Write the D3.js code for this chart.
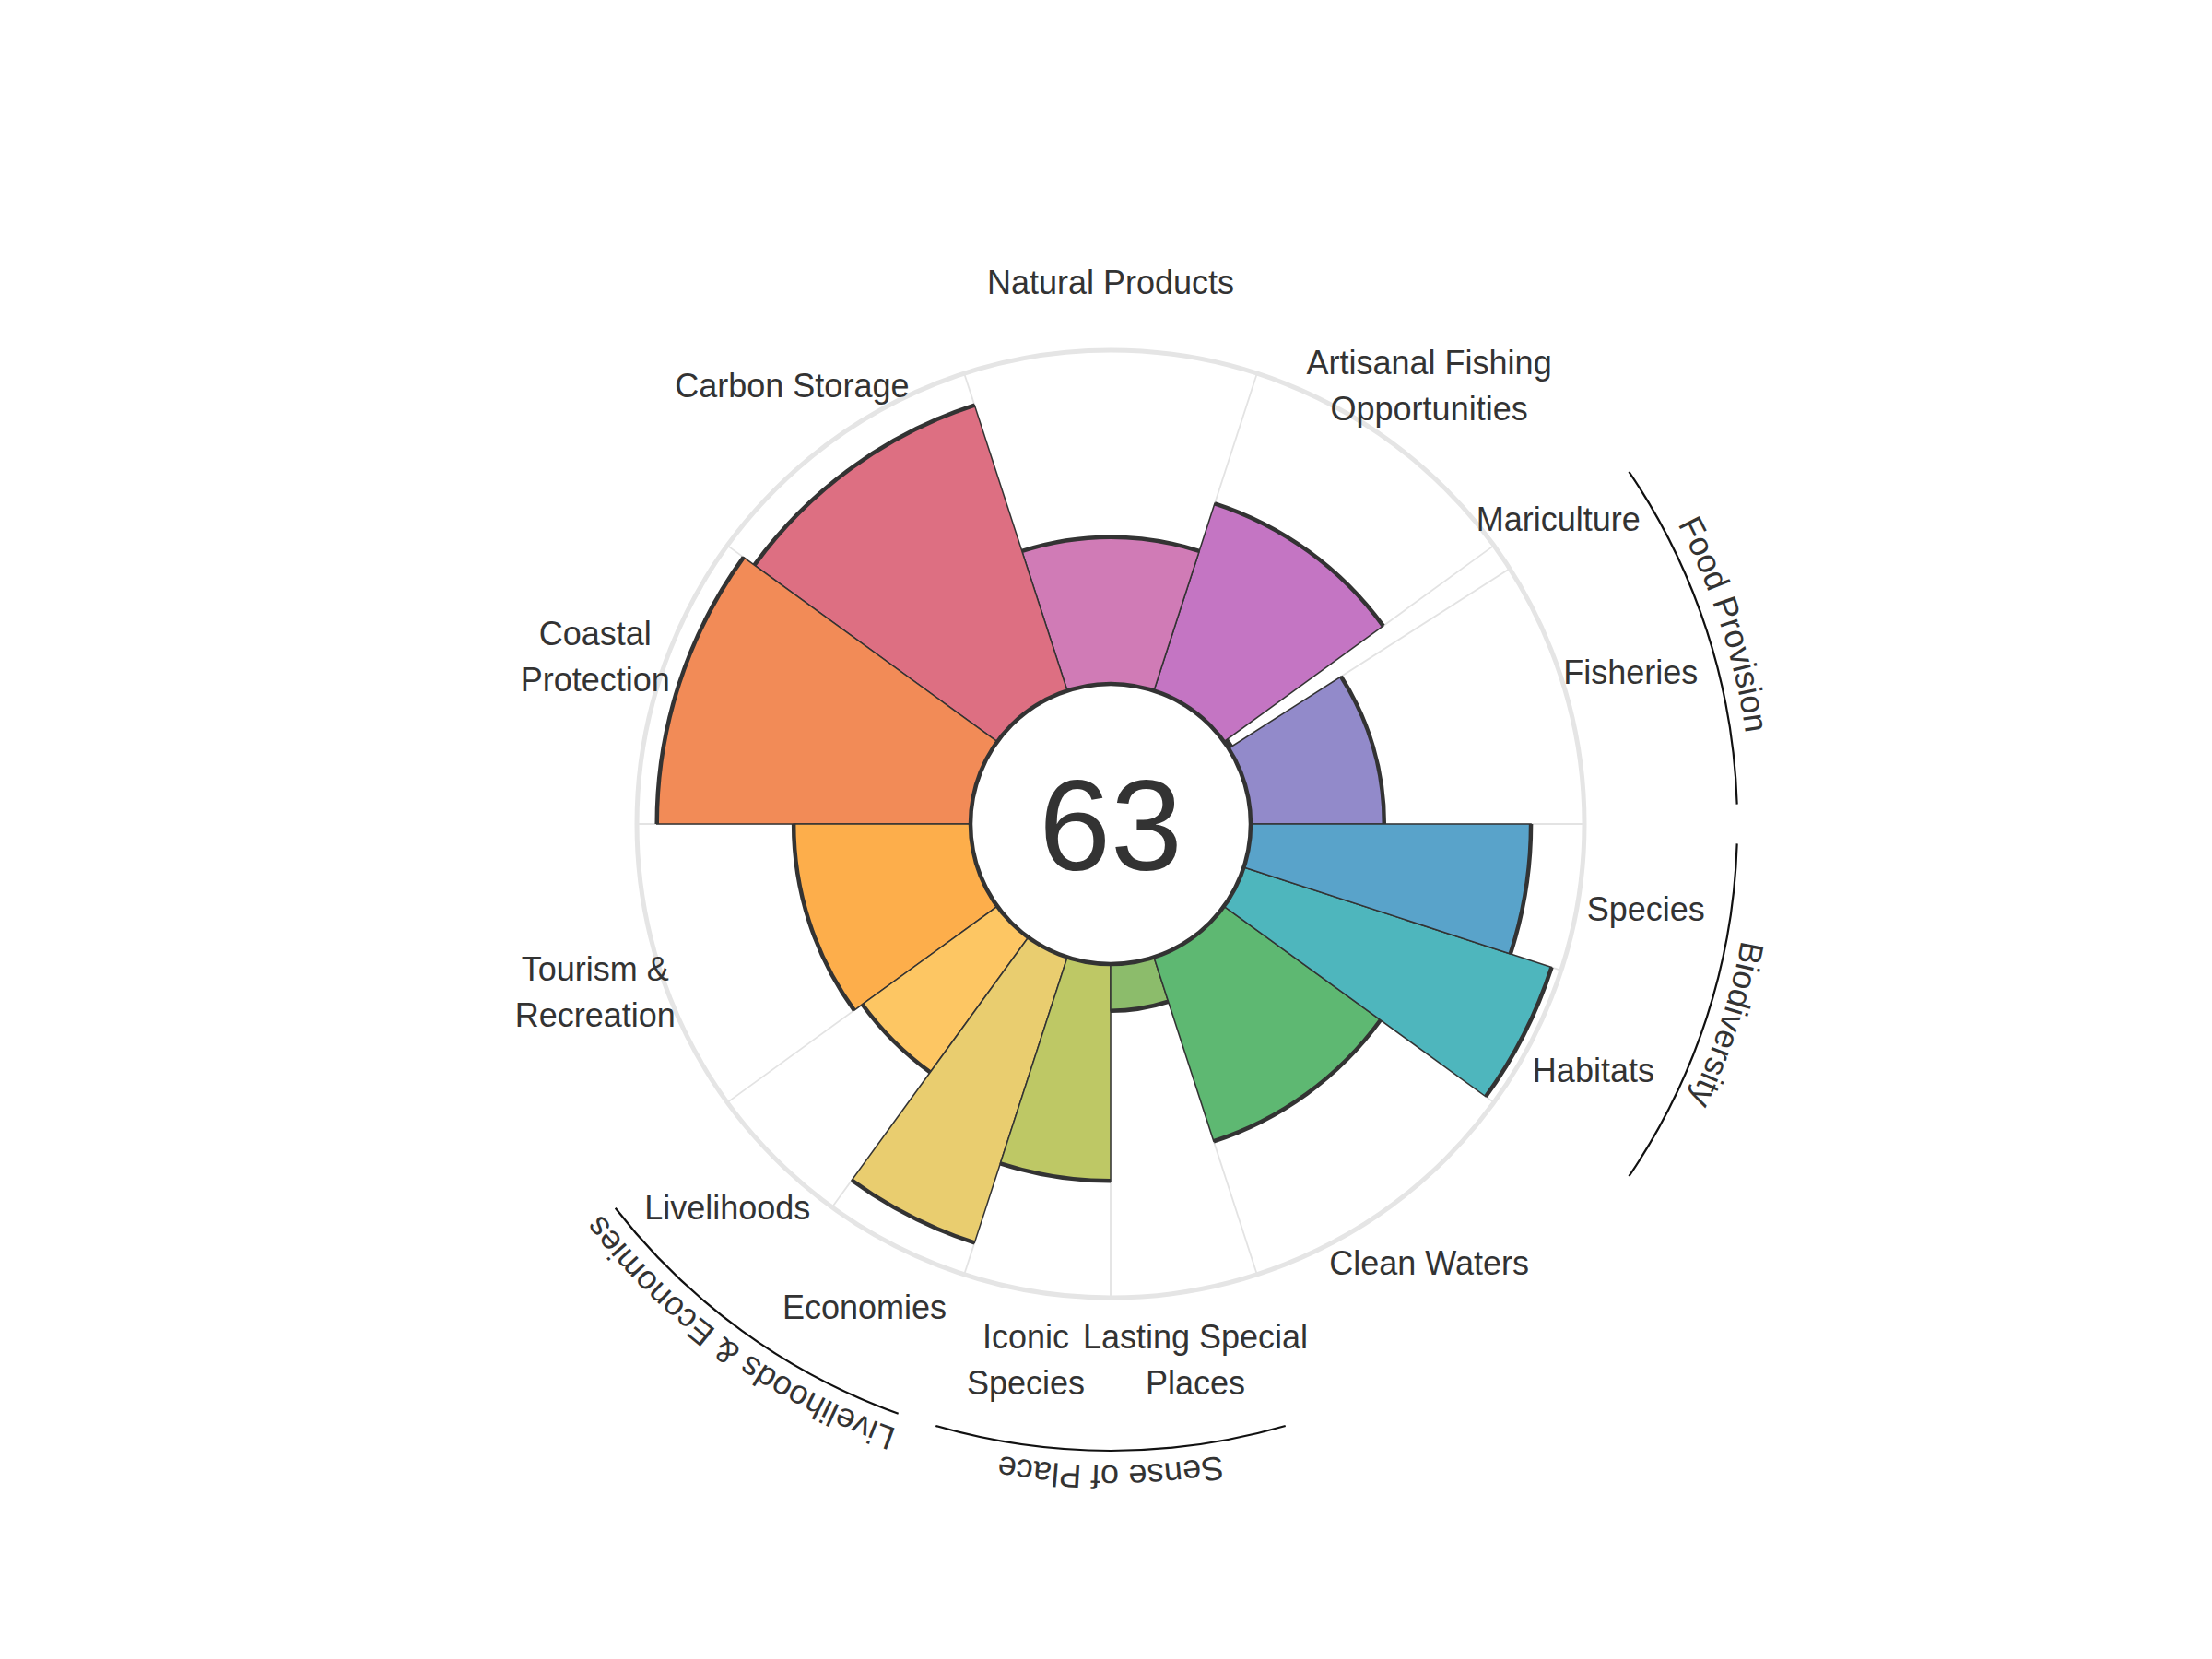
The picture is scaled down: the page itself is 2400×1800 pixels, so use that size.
<!DOCTYPE html>
<html>
<head>
<meta charset="utf-8">
<script src="https://cdn.jsdelivr.net/npm/d3@7"></script>
<style>
  body { margin: 0; background: #fff; }
  text { font-family: "Liberation Sans", Arial, sans-serif; fill: #333; }
</style>
</head>
<body>
<div id="chart_flower"></div>
<script>
// goals, counter-clockwise starting from east
const goals = ["Fisheries", "Mariculture", "Artisanal Fishing\nOpportunities", "Natural Products",
  "Carbon Storage", "Coastal\nProtection", "Tourism &\nRecreation", "Livelihoods", "Economies",
  "Iconic\nSpecies", "Lasting Special\nPlaces", "Clean Waters", "Habitats", "Species"];
const scores = [40, 1, 59, 44, 90, 94, 53, 50, 90, 65, 14, 58, 97, 84];
const weights = [0.906, 0.094, 1, 1, 1, 1, 1, 0.5, 0.5, 0.5, 0.5, 1, 0.5, 0.5];
const colors = ["#928aca", "#a97fc8", "#c475c3", "#d07bb6", "#dd6f82", "#f28b57", "#fdae4b",
  "#fdc663", "#e9cd6f", "#bec865", "#8cbc6b", "#5eb872", "#4eb6bd", "#59a3ca"];
const groups = ["Food Provision", "Livelihoods & Economies", "Sense of Place", "Biodiversity"];
const groupSpans = [[0, 1], [7, 8], [9, 10], [12, 13]];
const overall = 63;

(function flower() {

  let width = 2400,
    height = 1800,
    cx = 1205,
    cy = 894,
    r0 = 152,
    r1 = 514,
    labelR = 588,
    groupR = 680;

  const svg = d3.select("#chart_flower")
    .append("svg")
    .attr("width", width)
    .attr("height", height)
    .attr("viewBox", [0, 0, width, height]);

  let r = d3.scaleLinear().domain([0, 100]).range([r0, r1]);

  // angles in degrees, ccw from east
  let segs = [];
  let acc = 0;
  for (let i = 0; i < goals.length; i++) {
    let a0 = acc, a1 = acc + weights[i] * 36;
    segs.push({ goal: goals[i], score: scores[i], color: colors[i], a0: a0, a1: a1, mid: (a0 + a1) / 2 });
    acc = a1;
  }

  const rad = d => d * Math.PI / 180;
  const px = (a, rr) => cx + rr * Math.cos(rad(a));
  const py = (a, rr) => cy - rr * Math.sin(rad(a));

  let g = svg.append("g");

  // grid: spokes and outer ring
  g.selectAll(".spoke")
    .data(segs)
    .join("line")
    .attr("x1", d => px(d.a0, r0))
    .attr("y1", d => py(d.a0, r0))
    .attr("x2", d => px(d.a0, r1))
    .attr("y2", d => py(d.a0, r1))
    .attr("stroke", "#e3e3e3")
    .attr("stroke-width", 1.8);

  g.append("circle")
    .attr("cx", cx)
    .attr("cy", cy)
    .attr("r", r1)
    .attr("fill", "none")
    .attr("stroke", "#e5e5e5")
    .attr("stroke-width", 5);

  // bars
  let arc = d3.arc()
    .innerRadius(r0)
    .outerRadius(d => r(d.score))
    .startAngle(d => rad(90 - d.a1))
    .endAngle(d => rad(90 - d.a0));

  g.selectAll(".bar")
    .data(segs)
    .join("path")
    .attr("transform", `translate(${cx},${cy})`)
    .attr("d", arc)
    .attr("fill", d => d.color)
    .attr("stroke", "#333")
    .attr("stroke-width", 1.5);

  // thick outer edge of each bar
  g.selectAll(".edge")
    .data(segs)
    .join("path")
    .attr("d", d => {
      let p = d3.path();
      p.arc(cx, cy, r(d.score), -rad(d.a1), -rad(d.a0), false);
      return p.toString();
    })
    .attr("fill", "none")
    .attr("stroke", "#333")
    .attr("stroke-width", 4.5);

  // centre
  g.append("circle")
    .attr("cx", cx)
    .attr("cy", cy)
    .attr("r", r0)
    .attr("fill", "#fff")
    .attr("stroke", "#333")
    .attr("stroke-width", 4.5);

  g.append("text")
    .attr("x", cx)
    .attr("y", cy + 50)
    .attr("text-anchor", "middle")
    .attr("font-size", 140)
    .text(overall);

  // goal labels
  let lineH = 50;
  segs.forEach(d => {
    let lines = d.goal.split("\n");
    let x = px(d.mid, labelR), y = py(d.mid, labelR);
    let t = svg.append("text")
      .attr("text-anchor", "middle")
      .attr("font-size", 36);
    lines.forEach((ln, j) => {
      t.append("tspan")
        .attr("x", x)
        .attr("y", y + 13 + (j - (lines.length - 1) / 2) * lineH)
        .text(ln);
    });
  });

  // group arcs and labels
  groupSpans.forEach((sp, k) => {
    let a0 = segs[sp[0]].a0 + 1.8,
      a1 = segs[sp[1]].a1 - 1.8,
      mid = (a0 + a1) / 2;

    let p = d3.path();
    p.arc(cx, cy, groupR, -rad(a1), -rad(a0), false);
    svg.append("path")
      .attr("d", p.toString())
      .attr("fill", "none")
      .attr("stroke", "#111")
      .attr("stroke-width", 2.2);

    let tp = d3.path();
    let tr = groupR + 16;
    tp.moveTo(px(mid + 80, tr), py(mid + 80, tr));
    tp.arc(cx, cy, tr, -rad(mid + 80), -rad(mid - 80), false);
    svg.append("path")
      .attr("id", "grp" + k)
      .attr("d", tp.toString())
      .attr("fill", "none");

    svg.append("text")
      .attr("font-size", 36)
      .append("textPath")
      .attr("href", "#grp" + k)
      .attr("startOffset", "50%")
      .attr("text-anchor", "middle")
      .text(groups[k]);
  });
})();
</script>
</body>
</html>
